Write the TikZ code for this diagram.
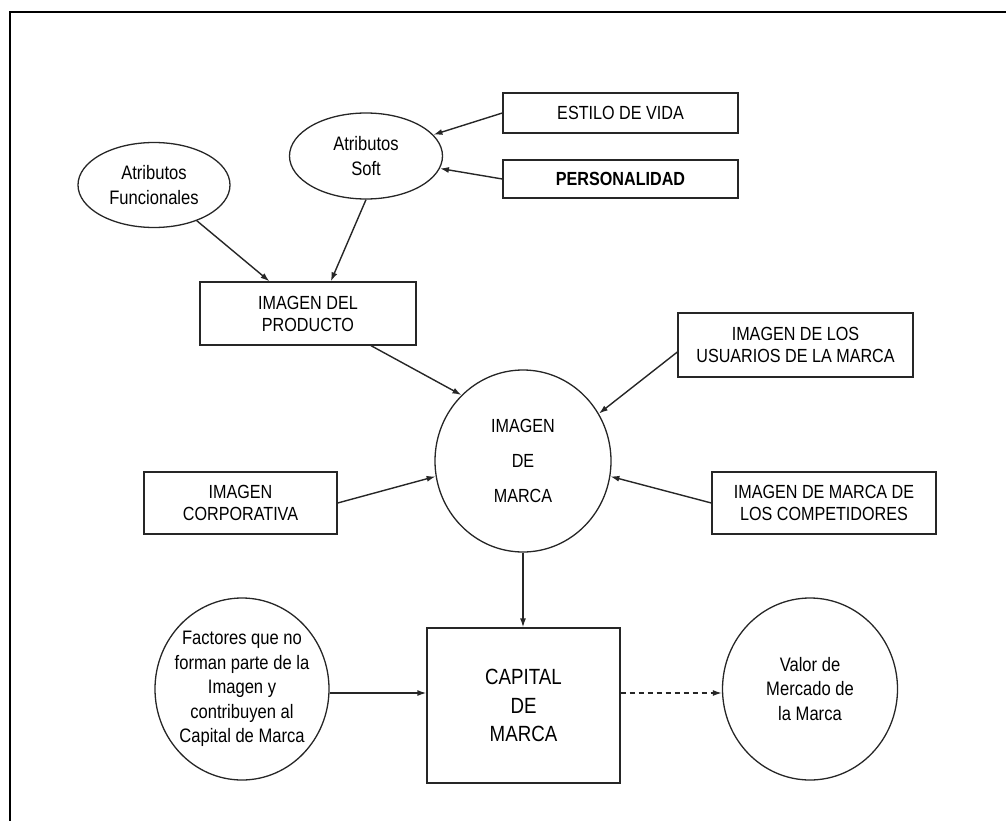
\documentclass[tikz,border=0pt]{standalone}
\usepackage{fontspec}
\setmainfont{Liberation Sans}[FakeStretch=0.85]
\usetikzlibrary{shapes.geometric,arrows.meta,calc}
\begin{document}
\begin{tikzpicture}[x=1pt,y=-1pt,
  box/.style={draw=black!85, line width=1.3pt, rectangle, inner sep=0pt, align=center, font=\fontsize{19}{22}\selectfont},
  oval/.style={draw=black!85, line width=1.3pt, ellipse, inner sep=0pt, align=center, font=\fontsize{19.5}{24.5}\selectfont},
  arr/.style={-{Latex[length=9pt,width=6pt]}, line width=1.4pt, black!85},
]
\useasboundingbox (0,0) rectangle (1006,821);
\draw[line width=2.5pt] (10,821) -- (10,12) -- (1006,12);

% top row
\node[box, minimum width=235pt, minimum height=40pt] (estilo) at (620.5,113) {ESTILO DE VIDA};
\node[box, minimum width=235pt, minimum height=38pt, font=\bfseries\fontsize{19}{22}\selectfont] (perso) at (620.5,179) {PERSONALIDAD};
\node[oval, minimum width=153pt, minimum height=86pt] (soft) at (366,156) {Atributos\\Soft};
\node[oval, minimum width=152pt, minimum height=85pt] (func) at (154,185) {Atributos\\Funcionales};
\node[box, minimum width=216pt, minimum height=63pt] (prod) at (308,313.5) {IMAGEN DEL\\PRODUCTO};

% middle
\node[box, minimum width=235pt, minimum height=64pt] (usu) at (795.5,345) {IMAGEN DE LOS\\USUARIOS DE LA MARCA};
\node[oval, minimum width=176pt, minimum height=182pt, font=\fontsize{19}{35}\selectfont] (marca) at (523,461) {IMAGEN\\DE\\MARCA};
\node[box, minimum width=193pt, minimum height=62pt] (corp) at (240.5,503) {IMAGEN\\CORPORATIVA};
\node[box, minimum width=224pt, minimum height=62pt] (comp) at (824,503) {IMAGEN DE MARCA DE\\LOS COMPETIDORES};

% bottom
\node[box, minimum width=193pt, minimum height=155pt, font=\fontsize{22}{28.5}\selectfont] (cap) at (523.5,705.5) {CAPITAL\\DE\\MARCA};
\node[oval, inner xsep=-8pt, inner ysep=-8pt, minimum width=174pt, minimum height=182pt] (fact) at (242,689) {Factores que no\\forman parte de la\\Imagen y\\contribuyen al\\Capital de Marca};
\node[oval, minimum width=175pt, minimum height=182pt] (valor) at (810,689) {Valor de\\Mercado de\\la Marca};

% connectors
\draw[arr] (estilo.west) -- (soft);
\draw[arr] (perso.west) -- (soft);
\draw[arr] (func) -- (prod);
\draw[arr] (soft.south) -- ($(prod.north)!0.21!(prod.north east)$);
\draw[arr] ($(prod.south)!0.58!(prod.south east)$) -- (marca.133);
\draw[arr] ($(usu.west)+(0,7)$) -- (marca.32);
\draw[arr] (corp.east) -- (marca.190);
\draw[arr] (comp.west) -- (marca.-10);
\draw[arr] (marca.south) -- (marca.south |- cap.north);
\draw[arr] ($(fact.east)+(0,4)$) -- ($(fact.east -| cap.west)+(0,4)$);
\draw[arr, dashed, dash pattern=on 5pt off 4pt] ($(valor.west -| cap.east)+(0,4)$) -- ($(valor.west)+(0,4)$);
\end{tikzpicture}
\end{document}
